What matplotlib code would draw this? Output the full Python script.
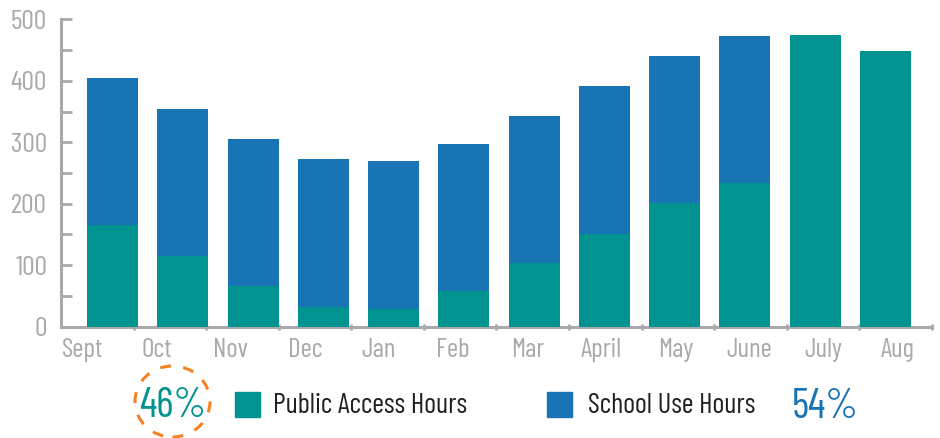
import matplotlib
matplotlib.use('Agg')
import matplotlib.pyplot as plt
from matplotlib.patches import Rectangle, Ellipse
from matplotlib.ticker import FixedLocator
import numpy as np

plt.rcParams['font.family'] = ['Barlow Condensed', 'DejaVu Sans']

months = ['Sept', 'Oct', 'Nov', 'Dec', 'Jan', 'Feb', 'Mar', 'April', 'May', 'June', 'July', 'Aug']
public_hours = [165, 115, 67, 32, 29, 58, 104, 151, 201, 233, 474, 448]
school_hours = [240, 239, 238, 241, 241, 239, 239, 240, 239, 240, 0, 0]
public_pct = '46%'
school_pct = '54%'

teal = '#00938f'
blue = '#1874b5'
grey = '#a7a9ac'

W, H = 940, 438
fig = plt.figure(figsize=(9.4, 4.38), dpi=100)
ax = fig.add_axes([61 / W, (H - 326.7) / H, 871 / W, 307.4 / H])

x = np.arange(len(months))
ax.bar(x, public_hours, width=0.726, color=teal, zorder=3)
ax.bar(x, school_hours, width=0.726, bottom=public_hours, color=blue, zorder=3)

ax.set_xlim(-0.733, 11.662)
ax.set_ylim(0, 500)

for s in ['top', 'right']:
    ax.spines[s].set_visible(False)
for s in ['left', 'bottom']:
    ax.spines[s].set_color(grey)
    ax.spines[s].set_linewidth(2.2)
    ax.spines[s].set_zorder(2)

ax.set_yticks(range(0, 501, 100))
ax.yaxis.set_minor_locator(FixedLocator(range(50, 500, 100)))
ax.tick_params(axis='y', which='both', direction='in', length=8, width=2, color=grey,
               labelcolor=grey, labelsize=20, pad=10)

# month labels sit slightly left of the bars, spaced a bit wider (as in the original)
ax.set_xticks(-0.427 + 1.055 * x)
ax.set_xticklabels(months)
ax.xaxis.set_minor_locator(FixedLocator(np.linspace(-0.733, 11.662, 13)[1:]))
ax.tick_params(axis='x', which='major', length=0, labelcolor=grey, labelsize=19.5, pad=8)
ax.tick_params(axis='x', which='minor', direction='inout', length=5, width=2, color=grey)

# legend
fig.patches.append(Rectangle((235 / W, (H - 417) / H), 25 / W, 25 / H,
                             transform=fig.transFigure, color=teal))
fig.text(273 / W, (H - 413) / H, 'Public Access Hours', fontsize=20.5, color='#231f20', va='baseline')
fig.patches.append(Rectangle((547 / W, (H - 417) / H), 25 / W, 25 / H,
                             transform=fig.transFigure, color=blue))
fig.text(588 / W, (H - 413) / H, 'School Use Hours', fontsize=20.5, color='#231f20', va='baseline')
fig.text(172.5 / W, (H - 417) / H, public_pct, fontsize=30, color=teal, ha='center', va='baseline')
fig.text(792 / W, (H - 418) / H, school_pct, fontsize=30, color=blue, va='baseline')
fig.patches.append(Ellipse((172.5 / W, (H - 401.5) / H), 75 / W, 71 / H, transform=fig.transFigure,
                           fill=False, edgecolor='#f58220', linewidth=2.2,
                           linestyle=(0, (3.6, 4.0))))

fig.savefig('out.png', dpi=100)
